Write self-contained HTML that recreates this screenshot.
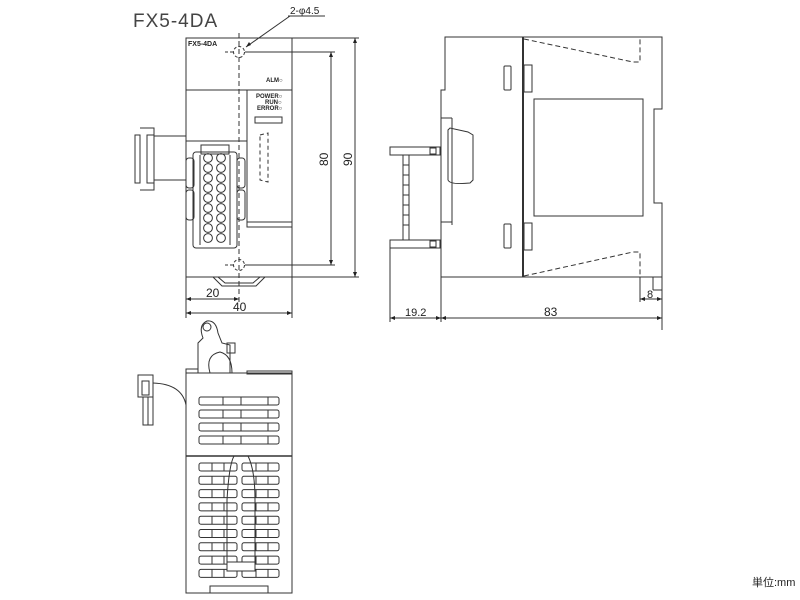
<!DOCTYPE html>
<html><head><meta charset="utf-8"><style>
html,body{margin:0;padding:0;background:#fff;width:800px;height:600px;overflow:hidden}
svg{display:block}
text{font-family:"Liberation Sans",sans-serif;fill:#222}
</style></head><body>
<svg width="800" height="600" viewBox="0 0 800 600" xmlns="http://www.w3.org/2000/svg">
<g fill="none" stroke="#333" stroke-width="1">
<!-- FRONT VIEW -->
<rect x="186" y="38" width="106" height="239"/>
<line x1="186" y1="90" x2="292" y2="90"/>
<line x1="186" y1="141" x2="247" y2="141"/>
<polyline points="247,90 247,227 292,227"/>
<line x1="247" y1="222" x2="292" y2="222"/>
<rect x="255" y="117" width="27" height="6"/>
<path d="M260 135 L268 133 L268 182 L260 180 Z" stroke-dasharray="4,3"/>
<!-- connector left -->
<rect x="135" y="135" width="5" height="48"/>
<path d="M140 128 L154 128 L154 190 L140 190"/>
<rect x="147" y="135" width="7" height="48"/>
<line x1="154" y1="136" x2="186" y2="136"/>
<line x1="154" y1="180" x2="186" y2="180"/>
<!-- terminal block -->
<rect x="193" y="152" width="44" height="96" rx="3"/>
<rect x="186" y="158" width="8" height="30" rx="3"/>
<rect x="186" y="190" width="8" height="30" rx="3"/>
<rect x="237" y="158" width="8" height="30" rx="3"/>
<rect x="237" y="190" width="8" height="30" rx="3"/>
<rect x="201" y="145" width="28" height="9"/>
<line x1="200" y1="155" x2="200" y2="245"/><line x1="230" y1="155" x2="230" y2="245"/>
<g stroke-width="1">
<circle cx="208" cy="158" r="4.4"/><circle cx="221" cy="158" r="4.4"/>
<circle cx="208" cy="168" r="4.4"/><circle cx="221" cy="168" r="4.4"/>
<circle cx="208" cy="178" r="4.4"/><circle cx="221" cy="178" r="4.4"/>
<circle cx="208" cy="188" r="4.4"/><circle cx="221" cy="188" r="4.4"/>
<circle cx="208" cy="198" r="4.4"/><circle cx="221" cy="198" r="4.4"/>
<circle cx="208" cy="208" r="4.4"/><circle cx="221" cy="208" r="4.4"/>
<circle cx="208" cy="218" r="4.4"/><circle cx="221" cy="218" r="4.4"/>
<circle cx="208" cy="228" r="4.4"/><circle cx="221" cy="228" r="4.4"/>
<circle cx="208" cy="238" r="4.4"/><circle cx="221" cy="238" r="4.4"/>
</g>
<!-- foot -->
<path d="M213 277 L222 286 L256 286 L265 277"/>
<path d="M218 277 L225 283 L253 283 L260 277"/>
<!-- centre + holes -->
<line x1="239" y1="33" x2="239" y2="305" stroke-dasharray="5,3"/>
<circle cx="239" cy="52" r="5.5" stroke-dasharray="3,2"/>
<circle cx="239" cy="265" r="5.5" stroke-dasharray="3,2"/>
<line x1="225" y1="52" x2="233" y2="52" stroke-dasharray="3,2"/>
<line x1="225" y1="265" x2="233" y2="265" stroke-dasharray="3,2"/>
<!-- dims front -->
<line x1="245" y1="52" x2="335" y2="52"/>
<line x1="245" y1="265" x2="335" y2="265"/>
<line x1="292" y1="38" x2="359" y2="38"/>
<line x1="292" y1="277" x2="359" y2="277"/>
<line x1="331" y1="52" x2="331" y2="265"/>
<line x1="355" y1="38" x2="355" y2="277"/>
<line x1="186" y1="277" x2="186" y2="318"/>
<line x1="292" y1="277" x2="292" y2="318"/>
<line x1="186" y1="299" x2="239" y2="299"/>
<line x1="186" y1="313" x2="292" y2="313"/>
<line x1="290" y1="16" x2="246" y2="47"/>
<line x1="288" y1="16" x2="325" y2="16"/>

<!-- SIDE VIEW -->
<path d="M445 37 L662 37 L662 109 L654 109 L654 203 L662 203 L662 277 L441 277 L441 90 L445 90 Z"/>
<line x1="523" y1="37" x2="523" y2="277" stroke-width="2"/>
<rect x="534" y="99" width="109" height="117"/>
<rect x="504" y="66" width="7" height="24" rx="1"/>
<rect x="504" y="224" width="7" height="24" rx="1"/>
<rect x="524" y="65" width="8" height="27"/>
<rect x="524" y="223" width="8" height="27"/>
<path d="M524 39 L633 62 L640 62 L640 37" stroke-dasharray="5,3"/>
<path d="M524 276 L633 252 L640 252 L640 277" stroke-dasharray="5,3"/>
<path d="M448 130 L448 180 Q450 185 470 183 L473 180 L473 135 L468 132 L450 128 Z"/>
<line x1="452" y1="118" x2="452" y2="225"/>
<path d="M441 118 L452 118 M441 222 L452 222"/>
<rect x="390" y="147" width="50" height="8"/>
<rect x="390" y="240" width="50" height="8"/>
<rect x="403" y="155" width="6" height="85"/>
<line x1="403" y1="165" x2="409" y2="165"/><line x1="403" y1="175" x2="409" y2="175"/>
<line x1="403" y1="185" x2="409" y2="185"/><line x1="403" y1="195" x2="409" y2="195"/>
<line x1="403" y1="205" x2="409" y2="205"/><line x1="403" y1="215" x2="409" y2="215"/>
<line x1="403" y1="225" x2="409" y2="225"/>
<rect x="430" y="148" width="6" height="6"/><rect x="430" y="241" width="6" height="6"/>
<line x1="653" y1="277" x2="653" y2="290"/><line x1="653" y1="290" x2="662" y2="290"/>
<!-- side dims -->
<line x1="390" y1="248" x2="390" y2="322"/>
<line x1="441" y1="277" x2="441" y2="322"/>
<line x1="662" y1="277" x2="662" y2="330"/>
<line x1="640" y1="277" x2="640" y2="302"/>
<line x1="390" y1="318" x2="441" y2="318"/>
<line x1="441" y1="318" x2="662" y2="318"/>
<line x1="640" y1="299" x2="662" y2="299"/>

<!-- BOTTOM VIEW -->
<rect x="186" y="373" width="106" height="220"/>
<line x1="186" y1="456" x2="292" y2="456" stroke-width="1.5"/>
<rect x="186" y="369" width="12" height="4"/>
<rect x="247" y="371" width="45" height="3"/>
<path d="M198 373 L198 343 L203 338 Q198 325 207 321 Q216 320 218 333 L222 343 L230 345 L230 373"/>
<circle cx="207" cy="327" r="4"/>
<rect x="227" y="343" width="8" height="10"/>
<path d="M210 373 Q205 355 220 352 Q232 355 232 373"/>
<!-- top rows -->
<rect x="199" y="397" width="80" height="8" rx="2"/><line x1="223" y1="397" x2="223" y2="405"/><line x1="241" y1="397" x2="241" y2="405"/><line x1="268" y1="397" x2="268" y2="405"/>
<rect x="199" y="410" width="80" height="8" rx="2"/><line x1="223" y1="410" x2="223" y2="418"/><line x1="241" y1="410" x2="241" y2="418"/><line x1="268" y1="410" x2="268" y2="418"/>
<rect x="199" y="423" width="80" height="8" rx="2"/><line x1="223" y1="423" x2="223" y2="431"/><line x1="241" y1="423" x2="241" y2="431"/><line x1="268" y1="423" x2="268" y2="431"/>
<rect x="199" y="436" width="80" height="8" rx="2"/><line x1="223" y1="436" x2="223" y2="444"/><line x1="241" y1="436" x2="241" y2="444"/><line x1="268" y1="436" x2="268" y2="444"/>
<!-- bottom rows -->
<g id="r">
<rect x="199" y="463" width="38" height="8" rx="2"/><line x1="212" y1="463" x2="212" y2="471"/><line x1="224" y1="463" x2="224" y2="471"/>
<rect x="242" y="463" width="37" height="8" rx="2"/><line x1="256" y1="463" x2="256" y2="471"/><line x1="268" y1="463" x2="268" y2="471"/>
</g>
<use href="#r" y="13.3"/><use href="#r" y="26.6"/><use href="#r" y="39.9"/><use href="#r" y="53.2"/>
<use href="#r" y="66.5"/><use href="#r" y="79.8"/><use href="#r" y="93.1"/><use href="#r" y="106.4"/>
<path d="M227 567 L227 500 Q229 465 234 456 M248 456 Q255 470 255 500 L255 567"/>
<rect x="227" y="562" width="28" height="9" fill="#fff"/>
<polyline points="210,593 210,586 268,586 268,593"/>
<!-- bottom connector -->
<rect x="138" y="375" width="15" height="22"/>
<rect x="142" y="381" width="7" height="14"/>
<rect x="143" y="397" width="10" height="28"/>
<line x1="148" y1="397" x2="148" y2="425"/>
<path d="M153 383 Q182 384 186 405"/>
</g>
<g fill="#222" stroke="none">
<path d="M186 299 l5 -2 v4 z M239 299 l-5 -2 v4 z M186 313 l5 -2 v4 z M292 313 l-5 -2 v4 z"/>
<path d="M331 52 l-2 5 h4 z M331 265 l-2 -5 h4 z M355 38 l-2 5 h4 z M355 277 l-2 -5 h4 z"/>
<path d="M246 47 l3 -5 l2 3 z"/>
<path d="M390 318 l5 -2 v4 z M441 318 l-5 -2 v4 z M441 318 l5 -2 v4 z M662 318 l-5 -2 v4 z M640 299 l5 -2 v4 z M662 299 l-5 -2 v4 z"/>
</g>
<text x="133" y="27" font-size="19" style="letter-spacing:1px;fill:#444">FX5-4DA</text>
<text x="290" y="14" font-size="10">2-φ4.5</text>
<text x="188" y="46" font-size="7" font-weight="bold">FX5-4DA</text>
<text x="266" y="82" font-size="6" font-weight="bold">ALM○</text>
<text x="256" y="98" font-size="6" font-weight="bold">POWER○</text>
<text x="265" y="104" font-size="6" font-weight="bold">RUN○</text>
<text x="257" y="110" font-size="6" font-weight="bold">ERROR○</text>
<text x="206" y="297" font-size="12">20</text>
<text x="233" y="311" font-size="12">40</text>
<text x="0" y="0" font-size="12" transform="translate(328,166) rotate(-90)">80</text>
<text x="0" y="0" font-size="12" transform="translate(352,166) rotate(-90)">90</text>
<text x="405" y="316" font-size="11">19.2</text>
<text x="544" y="316" font-size="12">83</text>
<text x="647" y="298" font-size="11">8</text>
<text x="752" y="586" font-size="11" style='font-family:"Liberation Sans","Noto Sans CJK JP",sans-serif'>単位:mm</text>
</svg>
</body></html>
